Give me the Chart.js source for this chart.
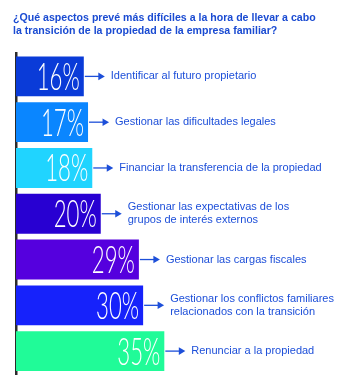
<!DOCTYPE html>
<html><head><meta charset="utf-8">
<script src="https://cdn.jsdelivr.net/npm/chart.js@4"></script>
<style>html,body{margin:0;padding:0;background:#fff}</style>
</head><body>
<canvas id="c" width="355" height="382"></canvas>
<script>
const titleLines = [
  '¿Qué aspectos prevé más difíciles a la hora de llevar a cabo',
  'la transición de la propiedad de la empresa familiar?'
];
const categories = [
  ['Identificar al futuro propietario'],
  ['Gestionar las dificultades legales'],
  ['Financiar la transferencia de la propiedad'],
  ['Gestionar las expectativas de los', 'grupos de interés externos'],
  ['Gestionar las cargas fiscales'],
  ['Gestionar los conflictos familiares', 'relacionados con la transición'],
  ['Renunciar a la propiedad']
];
const values = [16, 17, 18, 20, 29, 30, 35];
const barColors = ['#0a3bd8', '#0a86ff', '#20d4ff', '#2800d2', '#5500de', '#1622fb', '#20fb98'];
const textBlue = '#1d4fd9';

const annotate = {
  id: 'annotate',
  afterDatasetsDraw(chart) {
    const ctx = chart.ctx;
    const meta = chart.getDatasetMeta(0);
    meta.data.forEach((el, i) => {
      const x = el.x, y = el.y;
      // percentage inside bar
      ctx.save();
      ctx.fillStyle = '#ffffff';
      ctx.font = '300 37px Lato, Roboto, "Liberation Sans", sans-serif';
      ctx.textAlign = 'right';
      ctx.textBaseline = 'alphabetic';
      ctx.translate(x - 4, y + 13.5);
      ctx.scale(0.6, 1);
      ctx.fillText(values[i] + '%', 0, 0);
      ctx.restore();
      // arrow
      ctx.save();
      ctx.strokeStyle = textBlue;
      ctx.fillStyle = textBlue;
      ctx.lineWidth = 1.3;
      ctx.beginPath();
      ctx.moveTo(x + 1, y);
      ctx.lineTo(x + 16, y);
      ctx.stroke();
      ctx.beginPath();
      ctx.moveTo(x + 14.5, y - 3.8);
      ctx.lineTo(x + 21, y);
      ctx.lineTo(x + 14.5, y + 3.8);
      ctx.closePath();
      ctx.fill();
      // label
      ctx.font = '11px "Liberation Sans", Arial, sans-serif';
      ctx.textAlign = 'left';
      ctx.textBaseline = 'middle';
      const lines = categories[i];
      const lh = 13;
      const y0 = y - (lines.length - 1) * lh / 2;
      lines.forEach((t, k) => ctx.fillText(t, x + 27, y0 + k * lh));
      ctx.restore();
    });
  }
};

new Chart(document.getElementById('c'), {
  type: 'bar',
  data: {
    labels: categories,
    datasets: [{
      data: values,
      backgroundColor: barColors,
      borderWidth: 0,
      barPercentage: 0.87,
      categoryPercentage: 1
    }]
  },
  options: {
    indexAxis: 'y',
    responsive: false,
    animation: false,
    layout: { padding: { left: 13, right: 0, top: 0, bottom: 8 } },
    plugins: {
      legend: { display: false },
      tooltip: { enabled: false },
      title: {
        display: true,
        text: titleLines,
        align: 'start',
        color: '#1a4bd2',
        font: { family: '"Liberation Sans", Arial, sans-serif', size: 10.6, weight: 'bold', lineHeight: 1.25 },
        padding: { top: 11.5, bottom: 15.5 }
      }
    },
    scales: {
      x: { display: false, min: 0, max: 80 },
      y: {
        display: true,
        z: 1,
        ticks: { display: false },
        grid: { display: false, drawTicks: false },
        border: { display: true, color: '#2b2b2b', width: 2.5 },
        afterFit(s) { s.width = 3; }
      }
    }
  },
  plugins: [annotate]
});
</script>
</body></html>
